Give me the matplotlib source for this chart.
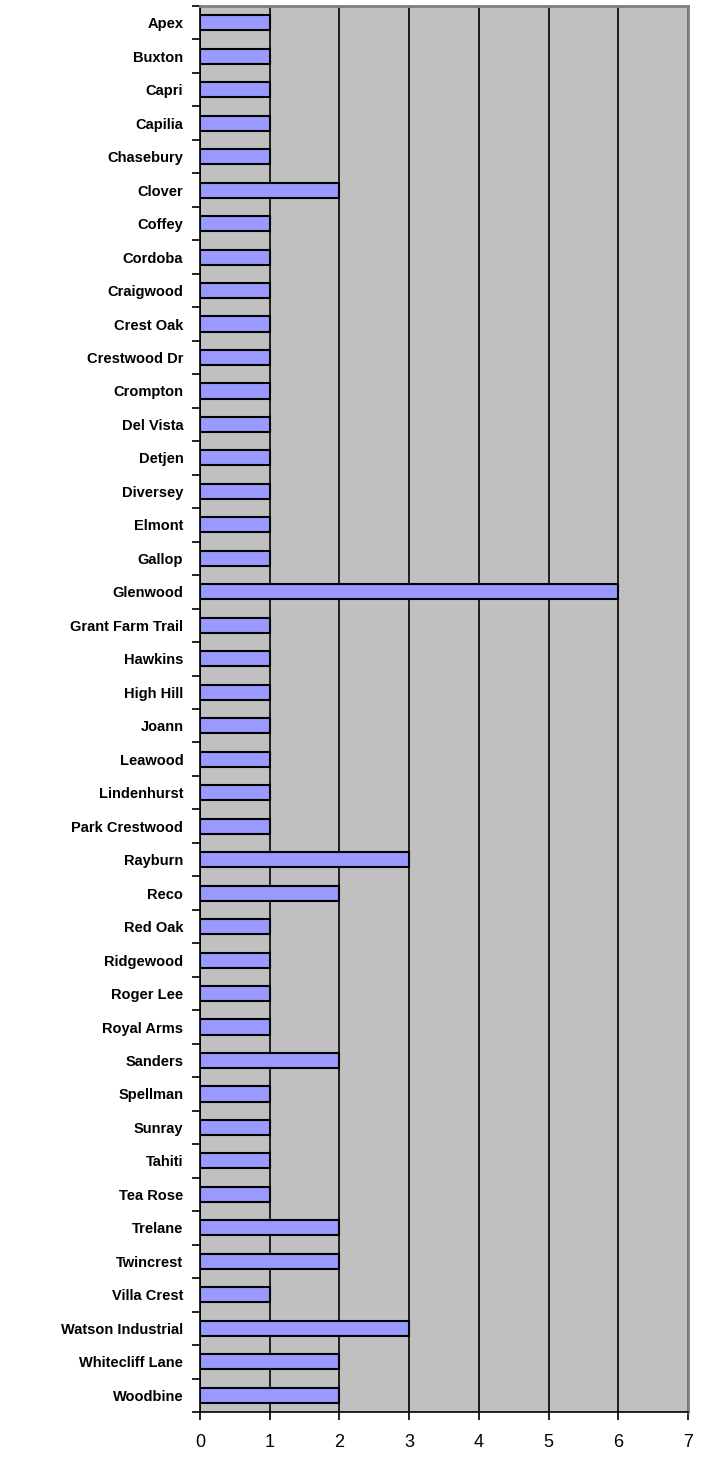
import matplotlib.pyplot as plt
import numpy as np

streets = [
    "Apex", "Buxton", "Capri", "Capilia", "Chasebury", "Clover", "Coffey",
    "Cordoba", "Craigwood", "Crest Oak", "Crestwood Dr", "Crompton",
    "Del Vista", "Detjen", "Diversey", "Elmont", "Gallop", "Glenwood",
    "Grant Farm Trail", "Hawkins", "High Hill", "Joann", "Leawood",
    "Lindenhurst", "Park Crestwood", "Rayburn", "Reco", "Red Oak",
    "Ridgewood", "Roger Lee", "Royal Arms", "Sanders", "Spellman", "Sunray",
    "Tahiti", "Tea Rose", "Trelane", "Twincrest", "Villa Crest",
    "Watson Industrial", "Whitecliff Lane", "Woodbine",
]
counts = [
    1, 1, 1, 1, 1, 2, 1,
    1, 1, 1, 1, 1,
    1, 1, 1, 1, 1, 6,
    1, 1, 1, 1, 1,
    1, 1, 3, 2, 1,
    1, 1, 1, 2, 1, 1,
    1, 1, 2, 2, 1,
    3, 2, 2,
]
x_ticks = [0, 1, 2, 3, 4, 5, 6, 7]

fig = plt.figure(figsize=(7.03, 14.59), dpi=100)
ax = fig.add_axes([200 / 703, 1 - 1412 / 1459, 488 / 703, 1406 / 1459])
ax.set_facecolor("#C0C0C0")

y = np.arange(len(streets))
ax.barh(y, counts, height=0.45, color="#9999FF", edgecolor="black", linewidth=1.5, zorder=3)

ax.set_xlim(0, 7)
ax.set_ylim(len(streets) - 0.5, -0.5)
ax.set_xticks(x_ticks)
ax.set_xticklabels([str(t) for t in x_ticks], fontsize=13, family="Liberation Sans")
ax.xaxis.grid(True, color="black", linewidth=1.2, zorder=1)
ax.set_axisbelow(True)

# category labels centred on bars, tick marks on boundaries
ax.set_yticks(y)
ax.set_yticklabels(streets, fontsize=10.5, fontweight="bold", family="Liberation Sans")
ax.tick_params(axis="y", which="major", length=0, pad=12)
ax.set_yticks(np.arange(len(streets) + 1) - 0.5, minor=True)
ax.tick_params(axis="y", which="minor", length=6, width=1.2, direction="out")
ax.tick_params(axis="x", length=6, width=1.2, direction="out", pad=10)

for side in ["top", "right"]:
    ax.spines[side].set_color("#808080")
    ax.spines[side].set_linewidth(2)
for side in ["left", "bottom"]:
    ax.spines[side].set_color("black")
    ax.spines[side].set_linewidth(1.2)

fig.savefig("out.png", dpi=100)
